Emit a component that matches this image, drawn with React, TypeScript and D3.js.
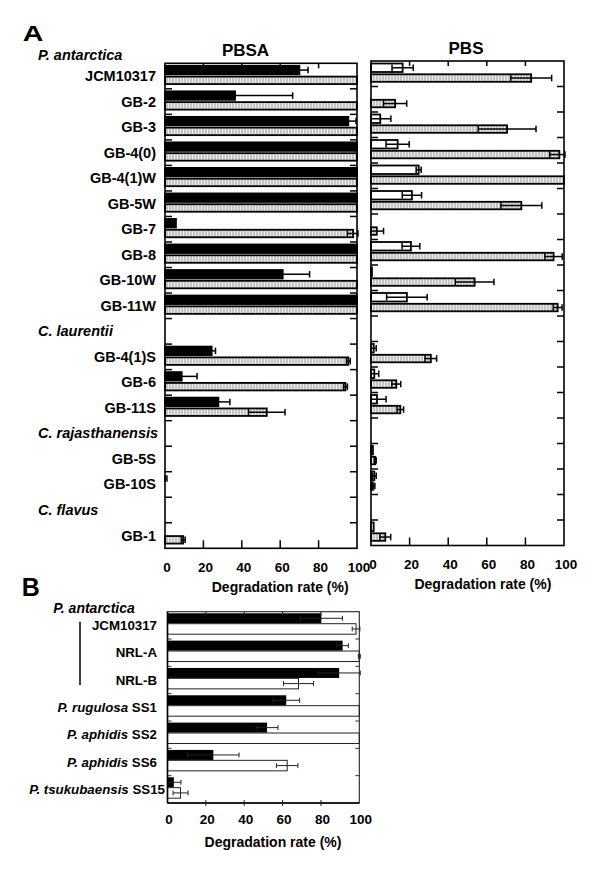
import React from "react";
import * as d3 from "d3";

// ---------- Panel A data ----------
const aTopHeading = "P. antarctica";
const aRows = [
  "JCM10317", "GB-2", "GB-3", "GB-4(0)", "GB-4(1)W", "GB-5W", "GB-7", "GB-8", "GB-10W", "GB-11W",
  "C. laurentii", "GB-4(1)S", "GB-6", "GB-11S",
  "C. rajasthanensis", "GB-5S", "GB-10S",
  "C. flavus", "GB-1",
];
const aHeadings = ["C. laurentii", "C. rajasthanensis", "C. flavus"];

// PBSA: first (black) series and second (hatched) series
const pbsaFirst = [70, 36.5, 95.5, 100, 100, 100, 5.7, 100, 61.3, 100, null, 24.3, 8.7, 27.8, null, 0, 0, null, 0];
const pbsaFirstErr = [4.5, 30, 4, 0, 0, 0, 0, 0, 14, 0, null, 2, 8, 6, null, 0, 1, null, 0];
const pbsaSecond = [100, 100, 100, 100, 100, 100, 98, 100, 100, 100, null, 95.5, 94, 53, null, 0, 0, null, 9.5];
const pbsaSecondErr = [0, 0, 0, 0, 0, 0, 3, 0, 0, 0, null, 1, 1, 9.5, null, 0, 0, null, 1];

// PBS: first (white) series and second (hatched) series
const pbsFirst = [16.4, 0, 4.8, 13.8, 24.7, 21.2, 0, 20.7, 0.5, 18.6, null, 1.4, 1.7, 3.1, null, 1, 1.7, null, 1.4];
const pbsFirstErr = [5.5, 0, 5.5, 6, 1.3, 5, 0, 4.6, 0, 10.5, null, 1.3, 2.3, 4.7, null, 0, 1, null, 0];
const pbsSecond = [83, 12.5, 70.5, 97.6, 100, 77.9, 3, 94.6, 53.7, 96.7, null, 31, 13.1, 15.2, null, 2.2, 1, null, 7.4];
const pbsSecondErr = [10.6, 6, 15, 5, 0, 10.6, 3.5, 4.5, 10, 2.3, null, 3, 2.3, 1.7, null, 0.5, 1, null, 2.8];

// ---------- Panel B data ----------
const bHeading = "P. antarctica";
const bSpecies = ["", "", "", "P. rugulosa", "P. aphidis", "P. aphidis", "P. tsukubaensis"];
const bStrains = ["JCM10317", "NRL-A", "NRL-B", "SS1", "SS2", "SS6", "SS15"];
const bBlack = [80.2, 91.3, 89.5, 61.9, 51.9, 23.9, 3.3];
const bBlackErr = [11, 3, 11, 7, 5.7, 13.4, 3.7];
const bWhite = [98.3, 100, 68.3, 100, 100, 62.4, 6.8];
const bWhiteErr = [2, 0.5, 7.8, 0, 0, 5.6, 3.9];

const xTicks = [0, 20, 40, 60, 80, 100];
const xTitle = "Degradation rate (%)";

const FONT = "'Liberation Sans', Arial, Helvetica, sans-serif";

type ErrProps = { x: d3.ScaleLinear<number, number>; v: number; e: number; cy: number; cap: number; sw: number; color: string };
function ErrBar({ x, v, e, cy, cap, sw, color }: ErrProps) {
  if (!e) return null;
  const lo = x(Math.max(0, v - e));
  const hi = x(Math.min(100.5, v + e));
  return (
    <g stroke={color} strokeWidth={sw}>
      <line x1={lo} x2={hi} y1={cy} y2={cy} />
      <line x1={lo} x2={lo} y1={cy - cap / 2} y2={cy + cap / 2} />
      <line x1={hi} x2={hi} y1={cy - cap / 2} y2={cy + cap / 2} />
    </g>
  );
}

type PanelAProps = {
  x0: number; x1: number; y0: number; y1: number;
  first: (number | null)[]; firstErr: (number | null)[];
  second: (number | null)[]; secondErr: (number | null)[];
  firstFill: string; title: string; titleX: number; axisTitleVal: number;
};

function PanelA({ x0, x1, y0, y1, first, firstErr, second, secondErr, firstFill, title, titleX, axisTitleVal }: PanelAProps) {
  const x = d3.scaleLinear().domain([0, 100]).range([x0, x1]);
  const y = d3.scaleBand<string>().domain(aRows).range([y0, y1]).padding(0);
  const bw = y.bandwidth();
  const boundaries = aRows.slice(1).map((r) => y(r) as number);
  return (
    <g>
      <text x={titleX} y={y0 - 7} textAnchor="middle" fontSize={17} fontWeight="bold" fontFamily={FONT}>{title}</text>
      {aRows.map((r, i) => {
        const top = y(r) as number;
        const v1 = first[i];
        const v2 = second[i];
        const e1 = firstErr[i] || 0;
        const e2 = secondErr[i] || 0;
        const h1y = top + 2.5, h1 = 8.5;
        const h2y = top + 13.3, h2 = 7.5;
        return (
          <g key={r}>
            {v1 != null && v1 > 0 && (
              <rect x={x(0)} y={h1y} width={x(v1) - x(0)} height={h1} fill={firstFill} stroke="#000" strokeWidth={1.8} />
            )}
            {v2 != null && v2 > 0 && (
              <rect x={x(0)} y={h2y} width={x(v2) - x(0)} height={h2} fill="url(#hatch)" stroke="#000" strokeWidth={1.8} />
            )}
            {v1 != null && <ErrBar x={x} v={v1} e={e1} cy={h1y + h1 / 2} cap={6.5} sw={1.5} color="#000" />}
            {v2 != null && <ErrBar x={x} v={v2} e={e2} cy={h2y + h2 / 2} cap={6.5} sw={1.5} color="#000" />}
          </g>
        );
      })}
      {/* frame */}
      <rect x={x0} y={y0} width={x1 - x0} height={y1 - y0} fill="none" stroke="#000" strokeWidth={1.6} />
      {/* y ticks inward both sides */}
      {boundaries.map((b, i) => (
        <g key={i} stroke="#000" strokeWidth={1.5}>
          <line x1={x0} x2={x0 + 7} y1={b} y2={b} />
          <line x1={x1} x2={x1 - 7} y1={b} y2={b} />
        </g>
      ))}
      {/* x ticks */}
      {xTicks.slice(1, -1).map((t) => (
        <g key={t} stroke="#000" strokeWidth={1.5}>
          <line x1={x(t)} x2={x(t)} y1={y0} y2={y0 + 5} />
          <line x1={x(t)} x2={x(t)} y1={y1} y2={y1 - 8} />
        </g>
      ))}
      {xTicks.map((t) => (
        <text key={t} x={x(t) + 2} y={y1 + 23.5} textAnchor="middle" fontSize={13.5} fontWeight="bold" fontFamily={FONT}>{t}</text>
      ))}
      <text x={x(axisTitleVal)} y={y1 + 43.5} textAnchor="middle" fontSize={14} fontWeight="bold" fontFamily={FONT}>{xTitle}</text>
    </g>
  );
}

function PanelB() {
  const x0 = 167.5, x1 = 359.3, y0 = 611.7, y1 = 803;
  const x = d3.scaleLinear().domain([0, 100]).range([x0, x1]);
  const y = d3.scaleBand<string>().domain(bStrains).range([y0, y1]).padding(0);
  const bw = y.bandwidth();
  const boundaries = bStrains.slice(1).map((r) => y(r) as number);
  return (
    <g>
      {bStrains.map((s, i) => {
        const top = y(s) as number;
        const by = top + 1.6, bh = 10;
        const wy = top + 12, wh = 10.5;
        return (
          <g key={s}>
            <rect x={x(0)} y={by} width={x(bBlack[i]) - x(0)} height={bh} fill="#000" />
            <rect x={x(0)} y={wy} width={x(bWhite[i]) - x(0)} height={wh} fill="#fff" stroke="#222" strokeWidth={1} />
            <ErrBar x={x} v={bBlack[i]} e={bBlackErr[i]} cy={by + bh / 2} cap={5} sw={1} color="#222" />
            <ErrBar x={x} v={bWhite[i]} e={bWhiteErr[i]} cy={wy + wh / 2} cap={5} sw={1} color="#222" />
            <text x={i === bStrains.length - 1 ? 165 : 157} y={top + bw / 2 + 4.5} textAnchor="end" fontSize={13.3} fontWeight="bold" fontFamily={FONT}>
              {bSpecies[i] && <tspan fontStyle="italic">{bSpecies[i] + " "}</tspan>}
              <tspan>{s}</tspan>
            </text>
          </g>
        );
      })}
      <rect x={x0} y={y0} width={x1 - x0} height={y1 - y0} fill="none" stroke="#222" strokeWidth={1.1} />
      <line x1={x0} x2={x0} y1={y0} y2={y1} stroke="#000" strokeWidth={1.6} />
      <line x1={x0} x2={x1} y1={y1} y2={y1} stroke="#000" strokeWidth={1.6} />
      {boundaries.map((b, i) => (
        <g key={i} stroke="#333" strokeWidth={1}>
          <line x1={x0} x2={x0 + 4} y1={b} y2={b} />
          <line x1={x1} x2={x1 - 4} y1={b} y2={b} />
        </g>
      ))}
      {xTicks.slice(1, -1).map((t) => (
        <g key={t} stroke="#222" strokeWidth={1}>
          <line x1={x(t)} x2={x(t)} y1={y0} y2={y0 + 4} />
          <line x1={x(t)} x2={x(t)} y1={y1 - 3} y2={y1 + 3} />
        </g>
      ))}
      {xTicks.map((t) => (
        <text key={t} x={x(t) + 1.5} y={y1 + 20.5} textAnchor="middle" fontSize={13.5} fontWeight="bold" fontFamily={FONT}>{t}</text>
      ))}
      <text x={x(55)} y={y1 + 44} textAnchor="middle" fontSize={14} fontWeight="bold" fontFamily={FONT}>{xTitle}</text>
      <text x={53.3} y={613.3} fontSize={14} fontWeight="bold" fontStyle="italic" fontFamily={FONT}>{bHeading}</text>
      <line x1={80} x2={80} y1={621.7} y2={685} stroke="#000" strokeWidth={1.5} />
    </g>
  );
}

function LabelsA() {
  const y = d3.scaleBand<string>().domain(aRows).range([63.3, 548.3]).padding(0);
  const bw = y.bandwidth();
  return (
    <g fontFamily={FONT} fontWeight="bold" fontSize={14.5}>
      <text x={38} y={60} fontStyle="italic">{aTopHeading}</text>
      {aRows.map((r) => {
        const cy = (y(r) as number) + bw / 2 + 5;
        const isHead = aHeadings.includes(r);
        return isHead ? (
          <text key={r} x={38} y={cy} fontStyle="italic">{r}</text>
        ) : (
          <text key={r} x={156} y={cy} textAnchor="end">{r}</text>
        );
      })}
    </g>
  );
}

export default function App() {
  return (
    <svg width={600} height={876} style={{ position: "absolute", left: 0, top: 0, background: "#fff" }}>
      <defs>
        <pattern id="hatch" patternUnits="userSpaceOnUse" width={3} height={4}>
          <rect width={3} height={4} fill="#c4c4c4" />
          <rect x={0} width={1} height={4} fill="#ececec" />
        </pattern>
      </defs>
      <rect width={600} height={876} fill="#fff" />
      <text x={22.7} y={40.7} fontSize={22} fontWeight="bold" fontFamily={FONT} textLength={20.6} lengthAdjust="spacingAndGlyphs">A</text>
      <text x={21.7} y={596} fontSize={25} fontWeight="bold" fontFamily={FONT}>B</text>
      <LabelsA />
      <PanelA x0={165} x1={357} y0={63.3} y1={548.3} first={pbsaFirst} firstErr={pbsaFirstErr} second={pbsaSecond} secondErr={pbsaSecondErr} firstFill="#000" title="PBSA" titleX={245.5} axisTitleVal={60} />
      <PanelA x0={371} x1={564} y0={61} y1={545.5} first={pbsFirst} firstErr={pbsFirstErr} second={pbsSecond} secondErr={pbsSecondErr} firstFill="#fff" title="PBS" titleX={466} axisTitleVal={58} />
      <PanelB />
    </svg>
  );
}
